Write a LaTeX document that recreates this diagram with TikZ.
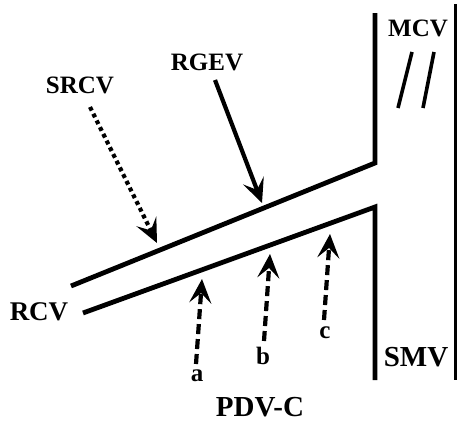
\documentclass[tikz,border=0pt]{standalone}
\usepackage{fontspec}
\setmainfont{Liberation Serif}
\usetikzlibrary{arrows.meta}

\begin{document}
\begin{tikzpicture}[x=1pt, y=-1pt, line width=4.8pt,
  lbl/.style={font=\fontsize{25}{28}\selectfont\bfseries, inner sep=0pt},
  biglbl/.style={lbl, font=\fontsize{#1}{#1}\selectfont\bfseries},
  tip/.style={-{Stealth[length=24pt, width=22pt, inset=10pt]}, line width=4.2pt},
  vdashed/.style={tip, dash pattern=on 10pt off 5pt},
  vdotted/.style={tip, dash pattern=on 4pt off 3.5pt}]
  \useasboundingbox (0,0) rectangle (457,423);
  % ===== vessels =====
  \coordinate (mtop) at (375,13);  \coordinate (mjoin) at (375,163);
  \coordinate (rup)  at (71,286);  \coordinate (rlow) at (83,313);
  \coordinate (sjoin) at (375,207); \coordinate (sbot) at (375,380);
  \draw (mtop) -- (mjoin) -- (rup);
  \draw (rlow) -- (sjoin) -- (sbot);
  \draw[line width=3pt] (455,4) coordinate (rtop) -- (455,380) coordinate (rbot);
  % break marks
  \draw[line width=3.6pt] (412,52) -- (398,108);
  \draw[line width=3.6pt] (434,52) -- (423,108);
  % ===== labels =====
  \node[lbl] (mcv)  at (418,28)  {MCV};
  \node[biglbl=29] (smv)  at (416,357) {SMV};
  \node[biglbl=27] (rcv)  at (39,312)  {RCV};
  \node[lbl] (srcv) at (80,85)   {SRCV};
  \node[lbl] (rgev) at (207,62)  {RGEV};
  \node[biglbl=29] (pdvc) at (260,407) {PDV-C};
  \node[lbl] (la)   at (197,376) {a};
  \node[lbl] (lb)   at (263,356) {b};
  \node[lbl] (lc)   at (325,333) {c};
  % ===== tributaries =====
  \coordinate (srcvS) at (90,107);  \coordinate (srcvE) at (157,243);
  \coordinate (rgevS) at (215,80);  \coordinate (rgevE) at (262,203);
  \coordinate (aS) at (196,364); \coordinate (aE) at (202,279);
  \coordinate (bS) at (264,341); \coordinate (bE) at (270,254);
  \coordinate (cS) at (324,320); \coordinate (cE) at (330,234);
  \draw[vdotted] (srcvS) -- (srcvE);
  \draw[tip] (rgevS) -- (rgevE);
  \draw[vdashed] (aS) -- (aE);
  \draw[vdashed] (bS) -- (bE);
  \draw[vdashed] (cS) -- (cE);
\end{tikzpicture}
\end{document}
